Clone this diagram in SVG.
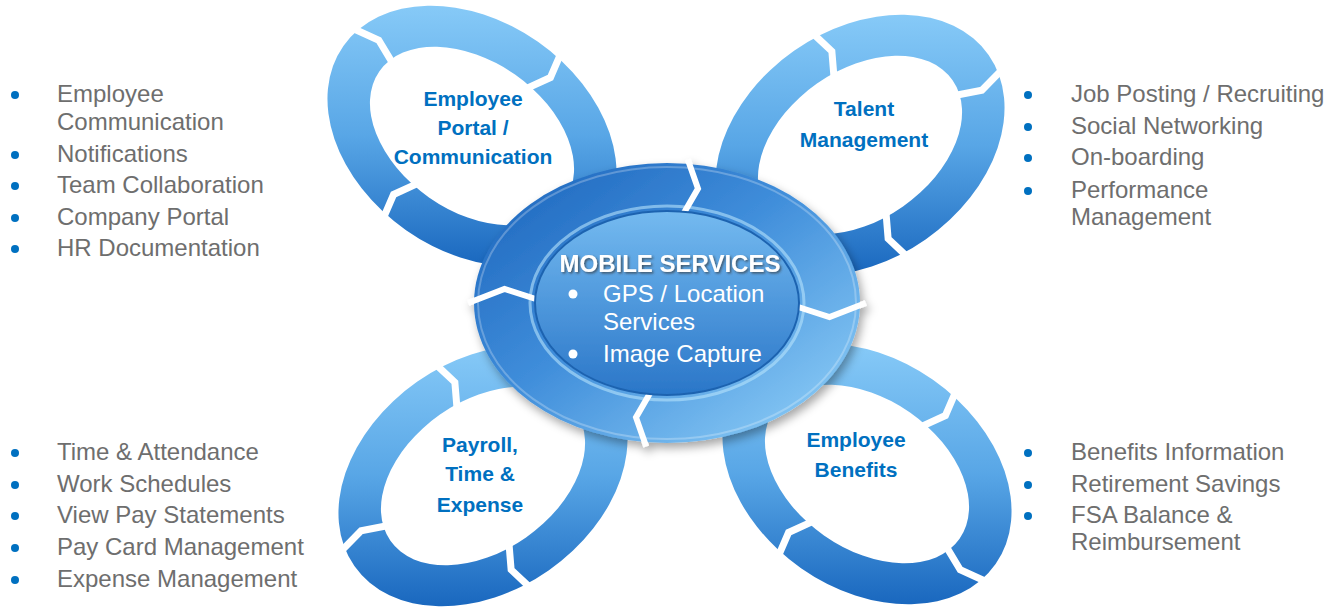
<svg xmlns="http://www.w3.org/2000/svg" xmlns:xlink="http://www.w3.org/1999/xlink" width="1338" height="609" viewBox="0 0 1338 609">
<defs>
<style>
.lbl{font-family:"Liberation Sans",Arial,sans-serif;font-weight:bold;font-size:21px;fill:#0070C0;text-anchor:middle}
.li{font-family:"Liberation Sans",Arial,sans-serif;font-size:24px;fill:#6E6E6E}
.dot{fill:#0070C0}
.gap{fill:none;stroke:#ffffff;stroke-width:7;stroke-linejoin:miter}
.cgap{fill:none;stroke:#ffffff;stroke-width:6;stroke-linejoin:miter}
.ctitle{font-family:"Liberation Sans",Arial,sans-serif;font-weight:bold;font-size:24px;fill:#ffffff;text-anchor:middle}
.cli{font-family:"Liberation Sans",Arial,sans-serif;font-size:24px;fill:#ffffff}
</style>
<linearGradient id="gP" gradientUnits="userSpaceOnUse" x1="0" y1="-135" x2="0" y2="135" gradientTransform="rotate(-35)">
<stop offset="0" stop-color="#88CBF8"/><stop offset="0.5" stop-color="#58A6E6"/><stop offset="1" stop-color="#1765BD"/>
</linearGradient>
<linearGradient id="gN" gradientUnits="userSpaceOnUse" x1="0" y1="-135" x2="0" y2="135" gradientTransform="rotate(35)">
<stop offset="0" stop-color="#88CBF8"/><stop offset="0.5" stop-color="#58A6E6"/><stop offset="1" stop-color="#1765BD"/>
</linearGradient>
<linearGradient id="gC" x1="0" y1="0" x2="1" y2="1">
<stop offset="0" stop-color="#1A62BA"/><stop offset="0.45" stop-color="#3F8DDA"/><stop offset="1" stop-color="#95D4FA"/>
</linearGradient>
<linearGradient id="gI" x1="0" y1="0" x2="0" y2="1">
<stop offset="0" stop-color="#74BAF0"/><stop offset="1" stop-color="#2A76C8"/>
</linearGradient>
<filter id="sh" x="-10%" y="-10%" width="125%" height="130%">
<feDropShadow dx="3" dy="5" stdDeviation="5" flood-color="#000000" flood-opacity="0.35"/>
</filter>
<filter id="tsh" x="-5%" y="-20%" width="110%" height="150%">
<feDropShadow dx="1.5" dy="1.5" stdDeviation="0.8" flood-color="#333333" flood-opacity="0.7"/>
</filter>
<g id="ring">
<path fill-rule="evenodd" d="M157,0 A157,115 0 1,0 -157,0 A157,115 0 1,0 157,0 Z M113,0 A113,75 0 1,0 -113,0 A113,75 0 1,0 113,0 Z"/>
<polyline class="gap" points="171,17.6 131.3,25 95.1,8.9"/>
<polyline class="gap" points="-24,125.3 -30.7,92.9 -13.3,63.1"/>
<polyline class="gap" points="-171,-17.6 -131.3,-25 -95.1,-8.9"/>
<polyline class="gap" points="24,-125.3 30.7,-92.9 13.3,-63.1"/>
</g>
</defs>
<rect width="1338" height="609" fill="#ffffff"/>

<g id="node-portal">
<use xlink:href="#ring" href="#ring" fill="url(#gP)" transform="translate(472,136) rotate(35)"/>
<text class="lbl" x="473" y="106">Employee</text>
<text class="lbl" x="473" y="135">Portal /</text>
<text class="lbl" x="473" y="164">Communication</text>
</g>
<g id="node-talent">
<use xlink:href="#ring" href="#ring" fill="url(#gN)" transform="translate(860,145) rotate(-35)"/>
<text class="lbl" x="864" y="116">Talent</text>
<text class="lbl" x="864" y="147">Management</text>
</g>
<g id="node-payroll">
<use xlink:href="#ring" href="#ring" fill="url(#gN)" transform="translate(483,476) rotate(-35)"/>
<text class="lbl" x="480" y="452">Payroll,</text>
<text class="lbl" x="480" y="481">Time &amp;</text>
<text class="lbl" x="480" y="512">Expense</text>
</g>
<g id="node-benefits">
<use xlink:href="#ring" href="#ring" fill="url(#gP)" transform="translate(867,474) rotate(35)"/>
<text class="lbl" x="856" y="447">Employee</text>
<text class="lbl" x="856" y="477">Benefits</text>
</g>

<g id="node-mobile">
<g filter="url(#sh)">
<ellipse cx="667" cy="303" rx="193" ry="140" fill="url(#gC)"/>
<ellipse cx="667" cy="303" rx="189" ry="136" fill="none" stroke="#ffffff" stroke-opacity="0.25" stroke-width="2"/>
<ellipse cx="667" cy="303" rx="137" ry="97" fill="none" stroke="#B5E2FC" stroke-opacity="0.6" stroke-width="3"/>
<polyline class="cgap" points="687.8,159.6 698,188.6 679.4,220.7"/>
<polyline class="cgap" points="865.8,303 829.5,317 785.8,303"/>
<polyline class="cgap" points="646.2,446.4 636,417.4 654.6,385.3"/>
<polyline class="cgap" points="468.2,303 504.5,289 548.2,303"/>
<ellipse cx="667" cy="303" rx="132" ry="92" fill="url(#gI)" stroke="#1E63B0" stroke-width="2"/>
</g>
<text class="ctitle" x="670" y="272" filter="url(#tsh)">MOBILE SERVICES</text>
<circle cx="573" cy="294" r="4.5" fill="#ffffff"/>
<text class="cli" x="603" y="302">GPS / Location</text>
<text class="cli" x="603" y="330">Services</text>
<circle cx="573" cy="354" r="4.5" fill="#ffffff"/>
<text class="cli" x="603" y="362">Image Capture</text>
</g>

<g id="list-portal">
<circle class="dot" cx="15" cy="95" r="4"/><text class="li" x="57" y="102">Employee</text>
<text class="li" x="57" y="130">Communication</text>
<circle class="dot" cx="15" cy="155" r="4"/><text class="li" x="57" y="162">Notifications</text>
<circle class="dot" cx="15" cy="186" r="4"/><text class="li" x="57" y="193">Team Collaboration</text>
<circle class="dot" cx="15" cy="218" r="4"/><text class="li" x="57" y="225">Company Portal</text>
<circle class="dot" cx="15" cy="249" r="4"/><text class="li" x="57" y="256">HR Documentation</text>
</g>
<g id="list-talent">
<circle class="dot" cx="1028" cy="95" r="4"/><text class="li" x="1071" y="102">Job Posting / Recruiting</text>
<circle class="dot" cx="1028" cy="127" r="4"/><text class="li" x="1071" y="134">Social Networking</text>
<circle class="dot" cx="1028" cy="158" r="4"/><text class="li" x="1071" y="165">On-boarding</text>
<circle class="dot" cx="1028" cy="191" r="4"/><text class="li" x="1071" y="198">Performance</text>
<text class="li" x="1071" y="225">Management</text>
</g>
<g id="list-payroll">
<circle class="dot" cx="15" cy="453" r="4"/><text class="li" x="57" y="460">Time &amp; Attendance</text>
<circle class="dot" cx="15" cy="485" r="4"/><text class="li" x="57" y="492">Work Schedules</text>
<circle class="dot" cx="15" cy="516" r="4"/><text class="li" x="57" y="523">View Pay Statements</text>
<circle class="dot" cx="15" cy="548" r="4"/><text class="li" x="57" y="555">Pay Card Management</text>
<circle class="dot" cx="15" cy="580" r="4"/><text class="li" x="57" y="587">Expense Management</text>
</g>
<g id="list-benefits">
<circle class="dot" cx="1028" cy="453" r="4"/><text class="li" x="1071" y="460">Benefits Information</text>
<circle class="dot" cx="1028" cy="485" r="4"/><text class="li" x="1071" y="492">Retirement Savings</text>
<circle class="dot" cx="1028" cy="516" r="4"/><text class="li" x="1071" y="523">FSA Balance &amp;</text>
<text class="li" x="1071" y="550">Reimbursement</text>
</g>
</svg>
